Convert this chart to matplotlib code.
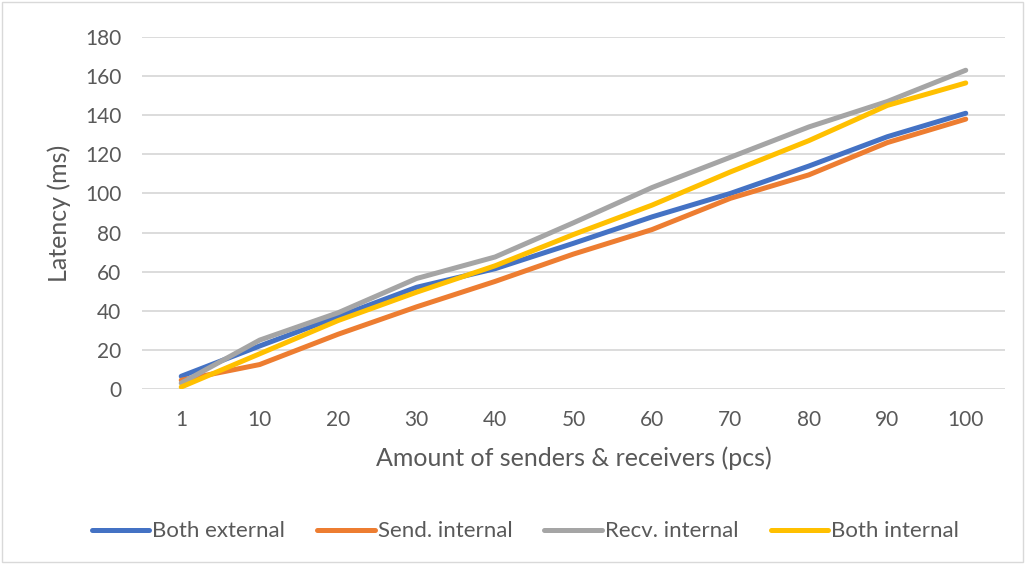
import numpy as np
import matplotlib.pyplot as plt
from matplotlib.patches import Rectangle

# categories on the x axis
senders = ['1', '10', '20', '30', '40', '50', '60', '70', '80', '90', '100']

# latency values (ms)
both_external = [6.5, 22, 37, 52, 61.5, 74.5, 88, 100, 114, 129, 141]
send_internal = [4.5, 12.5, 28, 42, 55, 69, 81.5, 97.5, 109.5, 126, 138]
recv_internal = [3, 25, 39, 56.5, 67.5, 85, 103, 118.5, 134, 147, 163]
both_internal = [1, 18, 35, 49.5, 63, 79, 94, 111, 127, 145, 156.5]

series = [('Both external', both_external, '#4472C4'),
          ('Send. internal', send_internal, '#ED7D31'),
          ('Recv. internal', recv_internal, '#A5A5A5'),
          ('Both internal', both_internal, '#FFC000')]

plt.rcParams['font.family'] = ['Lato', 'DejaVu Sans']
txt_col = '#595959'

fig = plt.figure(figsize=(10.26, 5.64), dpi=100)
ax = fig.add_axes([0.1384, 0.3103, 0.8411, 0.6241])

x = np.arange(len(senders))
for name, vals, col in series:
    ax.plot(x, vals, color=col, lw=3.6, label=name, solid_capstyle='round')

ax.set_xlim(-0.5, len(senders) - 0.5)
ax.set_ylim(0, 180)
ax.set_yticks(np.arange(0, 181, 20))
ax.set_xticks(x)
ax.set_xticklabels(senders)
ax.grid(axis='y', color='#D9D9D9', lw=1.3)
ax.set_axisbelow(True)
for s in ax.spines.values():
    s.set_visible(False)
ax.tick_params(length=0, labelsize=15, labelcolor=txt_col)
ax.tick_params(axis='y', pad=15)
ax.tick_params(axis='x', pad=15)

ax.set_xlabel('Amount of senders & receivers (pcs)', fontsize=18, color=txt_col, labelpad=12)
ax.set_ylabel('Latency (ms)', fontsize=18, color=txt_col, labelpad=10)

fig.legend(loc='center', bbox_to_anchor=(0.512, 0.058), ncol=4, frameon=False,
           fontsize=16, handlelength=2.6, handletextpad=0.12, columnspacing=1.45,
           labelcolor=txt_col)

fig.patches.append(Rectangle((0.002, 0.003), 0.995, 0.994, transform=fig.transFigure,
                             fill=False, edgecolor='#D9D9D9', lw=1))

plt.savefig('out.png', dpi=100)
